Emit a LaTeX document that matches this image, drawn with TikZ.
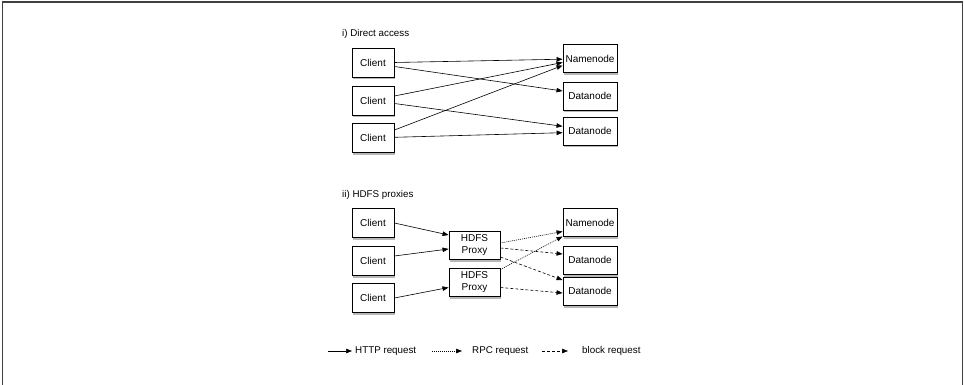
\documentclass[tikz,border=0pt]{standalone}
\usepackage{fontspec}
\setmainfont{Liberation Sans}
\usetikzlibrary{arrows.meta,shadows,calc}
\begin{document}
\begin{tikzpicture}[x=1pt,y=-1pt,
  box/.style={draw=black, line width=0.9pt, fill=white, minimum width=42pt,
    minimum height=29pt, inner sep=0pt, align=center,
    font=\fontsize{10}{12}\selectfont,
    drop shadow={shadow xshift=1.2pt, shadow yshift=-2.5pt, opacity=0.4, fill=black!70}},
  client/.style={box},
  server/.style={box, minimum width=54pt, minimum height=28pt},
  proxy/.style={box, minimum width=51pt, minimum height=28pt},
  lbl/.style={anchor=west, inner sep=0pt, font=\fontsize{9.8}{12}\selectfont},
  conn/.style={line width=0.6pt, -{Triangle[length=6pt,width=4.5pt]}},
  http/.style={conn},
  rpc/.style={conn, dash pattern=on 1pt off 1pt},
  blk/.style={conn, dash pattern=on 3pt off 2pt},
]
\useasboundingbox (0,0) rectangle (964,385);
\draw[line width=1.3pt, color=black!75] (2.7,385) -- (2.7,2) -- (962.5,2) -- (962.5,385);

% Part i
\node[lbl] (t1) at (342,34) {i) Direct access};
\node[client] (a1) at (373,62.5) {Client};
\node[client] (a2) at (373,100.5) {Client};
\node[client] (a3) at (373,138) {Client};
\node[server] (an) at (590,58.5) {Namenode};
\node[server] (ad1) at (590,96) {Datanode};
\node[server] (ad2) at (590,131) {Datanode};

\draw[http] (a1.east) -- ($(an.west)+(0,0.7)$);
\draw[http] ($(a1.east)+(0,4)$) -- ($(ad1.west)+(0,-5)$);
\draw[http] ($(a2.east)+(0,-4.5)$) -- ($(an.west)+(0,4)$);
\draw[http] ($(a2.east)+(0,3)$) -- ($(ad2.west)+(0,-4.7)$);
\draw[http] ($(a3.east)+(0,-8)$) -- ($(an.west)+(0,7)$);
\draw[http] ($(a3.east)+(0,-0.7)$) -- ($(ad2.west)+(0,1.7)$);

% Part ii
\node[lbl] (t2) at (342,195) {ii) HDFS proxies};
\node[client] (b1) at (373,222.5) {Client};
\node[client] (b2) at (373,260.5) {Client};
\node[client] (b3) at (373,298) {Client};
\node[proxy] (p1) at (474.5,245) {HDFS\\Proxy};
\node[proxy] (p2) at (474.5,282.5) {HDFS\\Proxy};
\node[server] (bn) at (590,222.5) {Namenode};
\node[server] (bd1) at (590,260) {Datanode};
\node[server] (bd2) at (590,291) {Datanode};

\draw[http] ($(b1.east)+(0,0.5)$) -- ($(p1.west)+(0,-10)$);
\draw[http] ($(b2.east)+(0,-4.5)$) -- ($(p1.west)+(0,4)$);
\draw[http] (b3.east) -- ($(p2.west)+(0,5)$);
\draw[rpc] ($(p1.east)+(0,-2)$) -- ($(bn.west)+(0,9)$);
\draw[blk] ($(p1.east)+(0,3)$) -- ($(bd1.west)+(0,-6)$);
\draw[blk] ($(p1.east)+(0,12)$) -- ($(bd2.west)+(0,-11)$);
\draw[rpc] ($(p2.east)+(0,-13)$) -- ($(bn.west)+(0,14)$);
\draw[blk] ($(p2.east)+(0,5)$) -- ($(bd2.west)+(0,2)$);

% Legend
\coordinate (h1) at (328,351);
\coordinate (h2) at (352,351);
\coordinate (r1) at (432,351);
\coordinate (r2) at (462,351);
\coordinate (k1) at (542,351);
\coordinate (k2) at (568,351);
\draw[http] (h1) -- (h2);
\draw[rpc] (r1) -- (r2);
\draw[blk] (k1) -- (k2);
\node[lbl] (lh) at (355,351) {HTTP request};
\node[lbl] (lr) at (472,351) {RPC request};
\node[lbl] (lk) at (582,351) {block request};
\end{tikzpicture}
\end{document}
